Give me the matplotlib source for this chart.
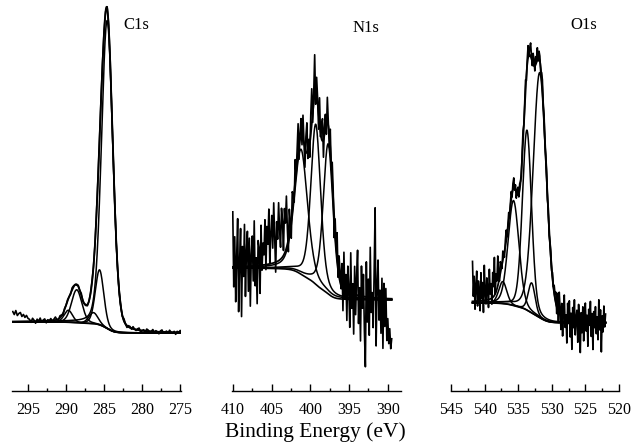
import numpy as np
import matplotlib
matplotlib.use("Agg")
import matplotlib.pyplot as plt

plt.rcParams['font.family'] = ['Liberation Serif', 'DejaVu Serif']

# ---- C1s: peak fit (centre eV, height, fwhm eV) and measured residuals ----
c1s_range = (297.0, 274.8)
c1s_base = (69, 58)          # background level high-BE side, low-BE side
c1s_centres = [284.6, 285.6, 286.4, 288.6, 289.7]
c1s_heights = [308, 55, 11, 33, 12]
c1s_fwhm = [1.75, 1.3, 1.4, 1.6, 1.3]
c1s_resid = [10, 7, 11, 6, 8, 9, 5, 7, 4, 6, 3,
             2, -1, 3, 1, -2, 2, 0, 3, -1, 1, 2, -2, 1, 0, 2, -1, 1, 3, 0, -1, 2, 1, -2, 1, 0,
             1, 0, -1, 2, 1, 0, -1, 1, 0, 2, -1, 0, 1, -1, 0, 1, 2, 0, -1, 1, 0, -1, 2, 1, 0,
             -1, 1, 0, 1, -2, 0, 1, -1, 0, 1,
             1, -1, 2, 0, -2, 1, 1, -1, 2, 0, -1, 1, 2, -2, 0, 1, -1, 2, 1, -1, 0, 2, -1, 1,
             0, -2, 1, 2, -1, 0, 1, -1, 2, 0, -1, 1, -2, 1, 0, 2, -1]

# ---- N1s ----
n1s_range = (410.0, 389.5)
n1s_base = (123, 91)
n1s_centres = [401.2, 399.3, 397.7]
n1s_heights = [125, 160, 150]
n1s_fwhm = [2.0, 1.5, 1.5]
n1s_resid = [55, -20, 30, -35, 10, 48, -45, 5, 38, -50, 20, -10, 42, -30, 15, 35,
             -25, 28, -40, 12, 30, -15, 45, -20, 8, -38, 25, 18, -28, 40, -5, 22,
             10, 45, -5, 38, 20, 55, 0, 30, 48, 15, 60, 25, -10, 40, 22, 58, 30, 12,
             50, 35, 5, 45, 28, 52,
             15, -12, 25, 5, -18, 20, 8, -10, 22, -5, 12, 28, -15, 6, 18, -8, 24, 2,
             -20, 14, 30, -6, 10, -14, 20, 35, -10, 8, 40, -12, 18, 5, -16, 26, -4, 12,
             22, -18, 8, 15, -10, 25, 2, -14, 18, -6, 20, 10, -20, 14, -2, 24, -12, 16,
             6, -8,
             20, -25, 35, -10, 15, -30, 25, 5, -35, 40, -15, 10, -40, 28, -20, 18, 45,
             -28, 8, -45, 30, -12, 22, -35, -70, 35, -25, 18, -38, 50, -15, 5, -30, 25,
             90, -48, 12, 38, -22, 8, -35, 20, -50, 15, -28, 10, -42, -20, -45, -30,
             -50, -40]

# ---- O1s ----
o1s_range = (541.8, 522.0)
o1s_base = (88, 68)
o1s_centres = [537.3, 535.7, 533.7, 533.0, 531.8]
o1s_heights = [22, 105, 180, 30, 245]
o1s_fwhm = [1.4, 1.9, 1.6, 1.2, 2.3]
o1s_resid = [40, 5, 25, -8, 15, 30, -5, 20, 10, -10, 28, 2, 18, -12, 35, 8, -4, 22,
             12, -8, 30, 5, 15, -6, 25, 10, 38, 0, 18, 8, 30,
             8, -3, 12, 5, -4, 9, 1, -6, 6, 11, -2, 4, 8, -5, 2, 7, -4, 6, 10,
             -2, 5, -6, 4, 8, -3, 6, 1, -5, 7, 11, -1, 4, 9, -6, 5, 12, -2, 7,
             13, 3, -4, 11, 6, -5, 8, 2, 12, -3, 7, 5, -6, 4, 9, -2, 6, -5, 3,
             7, -4, 5, -6, 2, 6, -3, 5, -1, 7, 4,
             10, -8, 15, -12, 20, 5, -15, 12, -20, 8, 22, -10, 3, -25, 15, -5, 18, -18,
             6, -30, 12, -8, 20, -15, 2, 10, -22, 16, -6, -32, 8, -12, 14, -20, 4, 18,
             -10, 6, -25, 12, -4, 20, -15, 8, -28, 10, -6, 15, -12, 5, -18, 22, -8, 12,
             -30, 6, -10, 16, -5, 8]

tick_labels = {'C1s': [295, 290, 285, 280, 275],
               'N1s': [410, 405, 400, 395, 390],
               'O1s': [545, 540, 535, 530, 525, 520]}


def pv(E, c, h, w, eta=0.35):
    g = np.exp(-4 * np.log(2) * (E - c) ** 2 / w ** 2)
    l = 1 / (1 + 4 * (E - c) ** 2 / w ** 2)
    return h * ((1 - eta) * g + eta * l)


def shirley(E, peaks, hi, lo):
    # E runs from high to low binding energy
    cum = np.cumsum(peaks[::-1])[::-1]
    return lo + (hi - lo) * cum / cum[0]


def draw(ax, rng, base, centres, heights, fwhm, resid, xlim, ticks, eta):
    E = np.linspace(rng[0], rng[1], len(resid))
    comps = [pv(E, c, h, w, eta) for c, h, w in zip(centres, heights, fwhm)]
    peaks = np.sum(comps, axis=0)
    bg = shirley(E, peaks, base[0], base[1])
    env = bg + peaks
    Ef = np.linspace(rng[0], rng[1], 600)
    compsf = [pv(Ef, c, h, w, eta) for c, h, w in zip(centres, heights, fwhm)]
    peaksf = np.sum(compsf, axis=0)
    bgf = shirley(Ef, peaksf, base[0], base[1])
    ax.plot(E, env + np.array(resid), color='black', lw=1.2)
    ax.plot(Ef, bgf + peaksf, color='black', lw=1.3)
    for cp in compsf:
        ax.plot(Ef, bgf + cp, color='black', lw=1.1)
    ax.plot(Ef, bgf, color='black', lw=1.2)
    ax.set_xlim(*xlim)
    ax.set_ylim(0, 391)
    ax.set_xticks(ticks)
    ax.set_xticks(np.array(ticks[:-1]) - 2.5, minor=True)
    ax.tick_params(axis='x', which='major', direction='in', length=5, width=1,
                   labelsize=11.5, pad=8)
    ax.tick_params(axis='x', which='minor', direction='in', length=2.5, width=1)
    ax.set_yticks([])
    for s in ['top', 'left', 'right']:
        ax.spines[s].set_visible(False)
    ax.spines['bottom'].set_linewidth(1.0)
    ax.patch.set_alpha(0)


W, H = 637, 446
fig = plt.figure(figsize=(W / 100, H / 100), dpi=100)


def add(x0, x1):
    return fig.add_axes([x0 / W, (H - 391) / H, (x1 - x0) / W, 391 / H])


ax1 = add(12, 181)
draw(ax1, c1s_range, c1s_base, c1s_centres, c1s_heights, c1s_fwhm, c1s_resid,
     (297.1, 274.9), tick_labels['C1s'], 0.2)
ax2 = add(232, 401)
draw(ax2, n1s_range, n1s_base, n1s_centres, n1s_heights, n1s_fwhm, n1s_resid,
     (410.1, 388.3), tick_labels['N1s'], 0.4)
ax3 = add(451, 619)
draw(ax3, o1s_range, o1s_base, o1s_centres, o1s_heights, o1s_fwhm, o1s_resid,
     (545.0, 520.0), tick_labels['O1s'], 0.2)

fig.text(136 / W, 1 - 25 / H, 'C1s', ha='center', va='center', fontsize=12)
fig.text(366 / W, 1 - 28 / H, 'N1s', ha='center', va='center', fontsize=12)
fig.text(584 / W, 1 - 25 / H, 'O1s', ha='center', va='center', fontsize=12)
fig.text(315 / W, 1 - 432 / H, 'Binding Energy (eV)', ha='center', va='center',
         fontsize=15.5)

fig.savefig('out.png', dpi=100)
